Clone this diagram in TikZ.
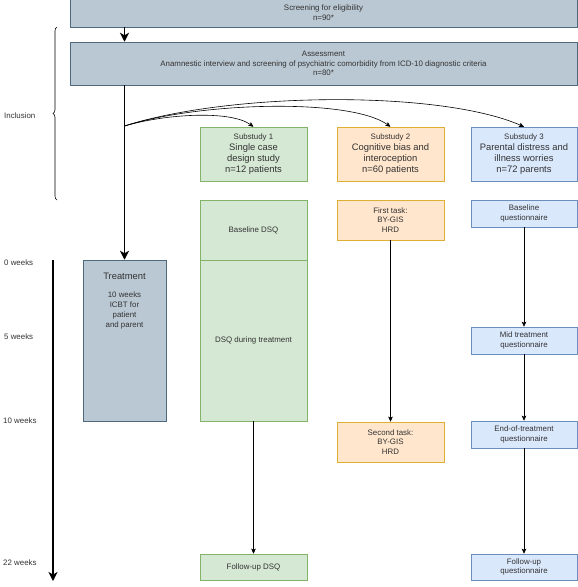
\documentclass[tikz,border=0pt]{standalone}
\usepackage{fontspec}
\setmainfont{Liberation Sans}
\usetikzlibrary{arrows.meta,decorations.pathreplacing,calc}
\definecolor{gbF}{HTML}{BAC8D3}\definecolor{gbD}{HTML}{23445D}
\definecolor{grF}{HTML}{D5E8D4}\definecolor{grD}{HTML}{82B366}
\definecolor{orF}{HTML}{FFE6CC}\definecolor{orD}{HTML}{D79B00}
\definecolor{blF}{HTML}{DAE8FC}\definecolor{blD}{HTML}{6C8EBF}
\definecolor{txtc}{HTML}{333333}
\newcommand\smf{\fontsize{7.9}{9.7}\selectfont}
\newcommand\lgf{\fontsize{9.4}{11}\selectfont}
\begin{document}
\begin{tikzpicture}[x=1pt,y=-1pt,
  box/.style={draw, line width=0.5pt, inner sep=0pt, text=txtc, align=center, font=\smf},
  graybox/.style={box, fill=gbF, draw=gbD!80},
  greenbox/.style={box, fill=grF, draw=grD},
  orangebox/.style={box, fill=orF, draw=orD!80},
  bluebox/.style={box, fill=blF, draw=blD},
  lbl/.style={inner sep=0pt, text=txtc, font=\smf, anchor=west},
  txtnode/.style={inner sep=0pt, text=txtc, align=center},
  thickarr/.style={line width=1.5pt, -{Stealth[length=9pt,width=9pt,inset=2.5pt]}},
  thinarr/.style={line width=0.6pt, -{Stealth[length=5pt,width=4.5pt,inset=1pt]}},
]
\useasboundingbox[fill=white] (0,0) rectangle (578,587);

% top boxes
\node[graybox, minimum width=507pt, minimum height=28pt] (screen) at (323.5,13) {Screening for eligibility\\n=90*};
\node[graybox, minimum width=507pt, minimum height=43pt] (assess) at (323.5,63.5)
  {Assessment\\Anamnestic interview and screening of psychiatric comorbidity from ICD-10 diagnostic criteria\\n=80*};

% substudy headers
\node[greenbox, font=\lgf, minimum width=107pt, minimum height=54pt] (sub1) at (253.5,154)
  {\smf Substudy 1\\ Single case\\ design study\\ n=12 patients};
\node[orangebox, font=\lgf, minimum width=107pt, minimum height=54pt] (sub2) at (390.5,154)
  {\smf Substudy 2\\ Cognitive bias and\\ interoception\\ n=60 patients};
\node[bluebox, font=\lgf, minimum width=106pt, minimum height=54pt] (sub3) at (524,154)
  {\smf Substudy 3\\ Parental distress and\\ illness worries\\ n=72 parents};

% substudy 1 column
\node[greenbox, minimum width=107pt, minimum height=60pt] (basedsq) at (253.5,230) {Baseline DSQ};
\node[greenbox, minimum width=107pt, minimum height=161pt] (during) at (253.5,340.5) {DSQ during treatment};
\node[greenbox, minimum width=107pt, minimum height=26pt] (fudsq) at (253.5,567) {Follow-up DSQ};

% substudy 2 column
\node[orangebox, minimum width=107pt, minimum height=40pt] (first) at (390.5,220) {First task:\\BY-GIS\\HRD};
\node[orangebox, minimum width=107pt, minimum height=40pt] (second) at (390.5,442) {Second task:\\BY-GIS\\HRD};

% substudy 3 column
\node[bluebox, minimum width=106pt, minimum height=27pt] (baseq) at (524,213.5) {Baseline\\questionnaire};
\node[bluebox, minimum width=106pt, minimum height=27pt] (midq) at (524,340.5) {Mid treatment\\questionnaire};
\node[bluebox, minimum width=106pt, minimum height=27pt] (endq) at (524,434.5) {End-of-treatment\\questionnaire};
\node[bluebox, minimum width=106pt, minimum height=26pt] (fuq) at (524,567) {Follow-up\\questionnaire};

% treatment
\node[graybox, minimum width=83pt, minimum height=161pt] (treat) at (124.5,340.5) {};
\node[txtnode, font=\lgf] (treattitle) at (124.5,276) {Treatment};
\node[txtnode, font=\smf] (treattext) at (124.5,310.5) {10 weeks\\ICBT for\\patient\\and parent};

% labels
\node[lbl] (incl) at (4,116) {Inclusion};
\node[lbl] (w0) at (4,263) {0 weeks};
\node[lbl] (w5) at (4,337) {5 weeks};
\node[lbl] (w10) at (3,421) {10 weeks};
\node[lbl] (w22) at (3,563) {22 weeks};

% brace
\coordinate (brb) at (57,200);
\coordinate (brt) at (57,27);
\draw[line width=0.6pt, decorate, decoration={brace, amplitude=4pt}] (brb) -- (brt);

% timeline
\coordinate (tl0) at (53,260);
\coordinate (tl1) at (53,581);
\draw[thickarr] (tl0) -- (tl1);

% main flow
\draw[thickarr] (screen.south -| treat.north) -- (assess.north -| treat.north);
\draw[thickarr] (assess.south -| treat.north) -- (treat.north);
\coordinate (br) at (124.5,126);
\draw[thinarr] (br) .. controls (165,114) and (230,110) .. (sub1.north);
\draw[thinarr] (br) .. controls (200,102) and (350,98) .. (sub2.north);
\draw[thinarr] (br) .. controls (230,92) and (440,90) .. (sub3.north);

% column connectors
\draw[thinarr] (during) -- (fudsq);
\draw[thinarr] (first) -- (second);
\draw[thinarr] (baseq) -- (midq);
\draw[thinarr] (midq) -- (endq);
\draw[thinarr] (endq) -- (fuq);
\end{tikzpicture}
\end{document}
